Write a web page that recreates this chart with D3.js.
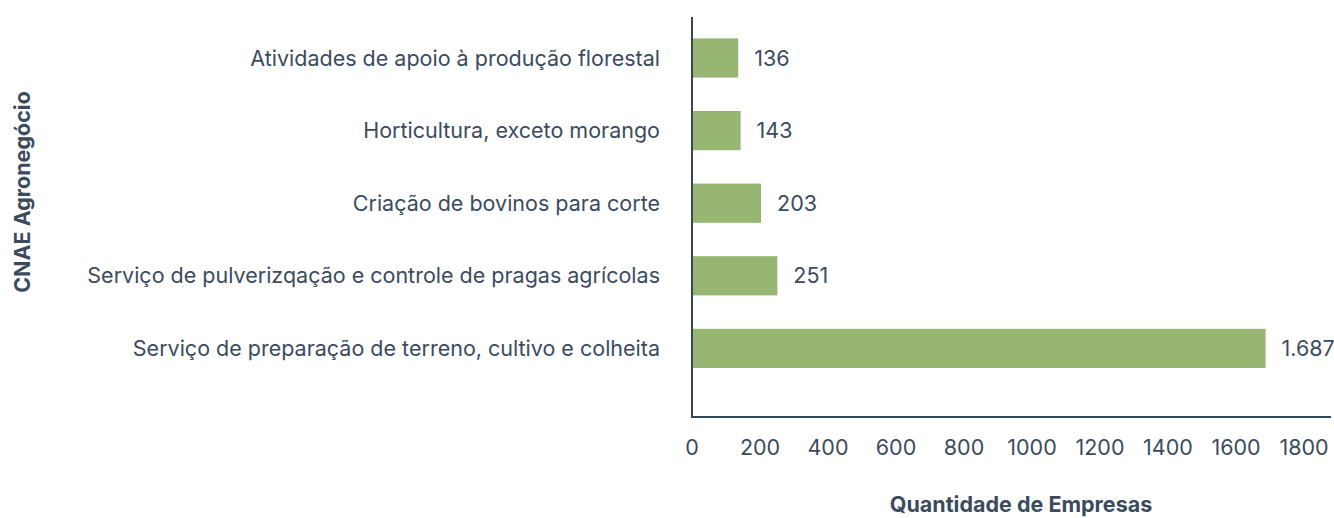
<!DOCTYPE html>
<html><head><meta charset="utf-8">
<script src="https://cdn.jsdelivr.net/npm/d3@7"></script>
<style>
body{margin:0;background:#fff;}
text{font-family:Inter, "Noto Sans", sans-serif;fill:#3b4b5e;}
</style></head>
<body><svg id="c" width="1334" height="518"></svg>
<script>
const categories = [
  "Atividades de apoio à produção florestal",
  "Horticultura, exceto morango",
  "Criação de bovinos para corte",
  "Serviço de pulverizqação e controle de pragas agrícolas",
  "Serviço de preparação de terreno, cultivo e colheita"
];
const values = [136, 143, 203, 251, 1687];
const valueLabels = ["136", "143", "203", "251", "1.687"];
const ticks = [0, 200, 400, 600, 800, 1000, 1200, 1400, 1600, 1800];
const xTitle = "Quantidade de Empresas";
const yTitle = "CNAE Agronegócio";

const svg = d3.select("#c");
const x0 = 692, x1 = 1304, yTop = 17, yBot = 417;
const x = d3.scaleLinear().domain([0, 1800]).range([x0, x1]);
const y = d3.scaleBand().domain(categories).range([21.7, 384.7]).paddingInner(0.46).paddingOuter(0.23);
const fs = 21.5;

svg.selectAll("rect.bar").data(values).enter().append("rect")
  .attr("x", x(0)).attr("y", (d,i)=>y(categories[i]))
  .attr("width", d=>x(d)-x(0)).attr("height", y.bandwidth())
  .attr("fill", "#97b672");

svg.selectAll("text.val").data(values).enter().append("text")
  .attr("x", d=>x(d)+16).attr("y", (d,i)=>y(categories[i])+y.bandwidth()/2)
  .attr("dy", "0.35em").attr("font-size", fs).text((d,i)=>valueLabels[i]);

svg.selectAll("text.cat").data(categories).enter().append("text")
  .attr("x", 660).attr("y", d=>y(d)+y.bandwidth()/2)
  .attr("dy", "0.35em").attr("text-anchor", "end").attr("font-size", fs).text(d=>d);

svg.selectAll("text.tick").data(ticks).enter().append("text")
  .attr("x", d=>x(d)).attr("y", 447).attr("dy", "0.35em")
  .attr("text-anchor", "middle").attr("font-size", fs).text(d=>d);

svg.append("line").attr("x1", x0).attr("x2", x0).attr("y1", yTop).attr("y2", yBot+1)
  .attr("stroke", "#34465a").attr("stroke-width", 2);
svg.append("line").attr("x1", x0-1).attr("x2", 1331).attr("y1", yBot).attr("y2", yBot)
  .attr("stroke", "#34465a").attr("stroke-width", 2);

svg.append("text").attr("x", 1021).attr("y", 504).attr("dy", "0.35em")
  .attr("text-anchor", "middle").attr("font-size", 21.5).attr("font-weight", 700).text(xTitle);
svg.append("text").attr("transform", "translate(22,192) rotate(-90)").attr("dy", "0.35em")
  .attr("text-anchor", "middle").attr("font-size", 21.5).attr("font-weight", 700).text(yTitle);
</script></body></html>
